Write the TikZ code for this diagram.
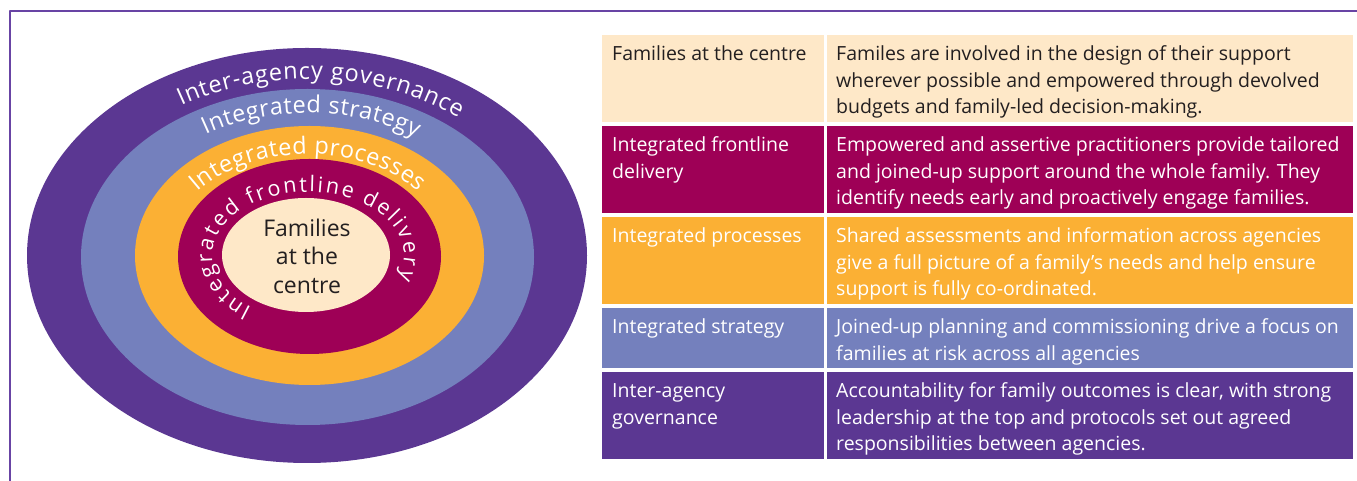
\documentclass[tikz,border=0pt]{standalone}
\usepackage{fontspec}
\setmainfont{Open Sans}
\usetikzlibrary{decorations.text}

\definecolor{govpurple}{RGB}{91,55,146}
\definecolor{stratblue}{RGB}{116,128,189}
\definecolor{procorange}{RGB}{251,176,52}
\definecolor{delivred}{RGB}{158,0,86}
\definecolor{famcream}{RGB}{254,232,200}
\definecolor{framepurple}{RGB}{104,68,164}
\definecolor{inkdark}{RGB}{35,31,32}

\newcommand{\ringfont}{\fontsize{23.5}{23.5}\selectfont}
\newcommand{\tabfont}{\fontsize{19.5}{26.5}\selectfont}
\newcommand{\celllines}[1]{\begin{tabular}[t]{@{}l@{}}#1\end{tabular}}

\tikzset{
  ringtext/.style={decorate, decoration={text along path, text align={fit to path},
      text color=white, text={|\ringfont|#1}}},
  cellL/.style={anchor=north west, inner sep=0pt, outer sep=0pt, minimum width=222pt},
  cellR/.style={anchor=north west, inner sep=0pt, outer sep=0pt, minimum width=526pt},
  celltext/.style={anchor=base west, inner sep=0pt, font=\tabfont, text=white}
}

\begin{document}
\begin{tikzpicture}[x=1pt,y=1pt,line join=round]
\useasboundingbox (0,0) rectangle (1357,481);
% frame
\draw [line width=2pt,framepurple] (1357,470) -- (9.5,470) -- (9.5,0);

% rings
\coordinate (ctr) at (308,225);
\fill [govpurple] (307,225.5) ellipse [x radius=280, y radius=207.5];
\fill [stratblue] (307.5,224) ellipse [x radius=226.5, y radius=168];
\fill [procorange] (309.5,225.5) ellipse [x radius=174.5, y radius=129.5];
\fill [delivred] (309.5,224.5) ellipse [x radius=131.5, y radius=97.5];
\fill [famcream] (306,226) ellipse [x radius=84, y radius=57];

\path [ringtext={Inter-agency governance}] (ctr) ++(122:239 and 177)
  arc [start angle=122, end angle=51, x radius=239, y radius=177];
\path [ringtext={Integrated strategy}] (ctr) ++(122:193 and 143)
  arc [start angle=122, end angle=56, x radius=193, y radius=143];
\path [ringtext={Integrated processes}] (ctr) ++(141:142 and 102)
  arc [start angle=141, end angle=39, x radius=142, y radius=102];
\path [decorate, decoration={text along path, text align={fit to path}, text color=white,
    text={|\fontsize{21.5}{21.5}\selectfont|Integrated frontline delivery}}]
  (ctr) ++(234:96 and 64) arc [start angle=234, end angle=-20, x radius=96, y radius=64];

\node [align=center, font=\fontsize{23}{28.5}\selectfont, text=inkdark, inner sep=0pt]
  (famcentre) at (307,225) {Families\\at the\\centre};

% table
\node [cellL, fill=famcream, minimum height=87pt] (famL) at (602,446) {};
\node [cellR, fill=famcream, minimum height=87pt] (famR) at (827,446) {};
\node [cellL, fill=delivred, minimum height=87pt] (delL) at (602,355) {};
\node [cellR, fill=delivred, minimum height=87pt] (delR) at (827,355) {};
\node [cellL, fill=procorange, minimum height=87pt] (proL) at (602,264) {};
\node [cellR, fill=procorange, minimum height=87pt] (proR) at (827,264) {};
\node [cellL, fill=stratblue, minimum height=60pt] (strL) at (602,173) {};
\node [cellR, fill=stratblue, minimum height=60pt] (strR) at (827,173) {};
\node [cellL, fill=govpurple, minimum height=87pt] (govL) at (602,109) {};
\node [cellR, fill=govpurple, minimum height=87pt] (govR) at (827,109) {};

\node [celltext, text=inkdark] at ([xshift=10pt,yshift=-26pt]famL.north west)
  {\celllines{Families at the centre}};
\node [celltext, text=inkdark] at ([xshift=9pt,yshift=-26pt]famR.north west)
  {\celllines{Familes are involved in the design of their support\\wherever possible and empowered through devolved\\budgets and family-led decision-making.}};
\node [celltext] at ([xshift=10pt,yshift=-26pt]delL.north west)
  {\celllines{Integrated frontline\\delivery}};
\node [celltext] at ([xshift=9pt,yshift=-26pt]delR.north west)
  {\celllines{Empowered and assertive practitioners provide tailored\\and joined-up support around the whole family. They\\identify needs early and proactively engage families.}};
\node [celltext] at ([xshift=10pt,yshift=-26pt]proL.north west)
  {\celllines{Integrated processes}};
\node [celltext] at ([xshift=9pt,yshift=-26pt]proR.north west)
  {\celllines{Shared assessments and information across agencies\\give a full picture of a family’s needs and help ensure\\support is fully co-ordinated.}};
\node [celltext] at ([xshift=10pt,yshift=-26pt]strL.north west)
  {\celllines{Integrated strategy}};
\node [celltext] at ([xshift=9pt,yshift=-26pt]strR.north west)
  {\celllines{Joined-up planning and commissioning drive a focus on\\families at risk across all agencies}};
\node [celltext] at ([xshift=10pt,yshift=-26pt]govL.north west)
  {\celllines{Inter-agency\\governance}};
\node [celltext] at ([xshift=9pt,yshift=-26pt]govR.north west)
  {\celllines{Accountability for family outcomes is clear, with strong\\leadership at the top and protocols set out agreed\\responsibilities between agencies.}};
\end{tikzpicture}
\end{document}
